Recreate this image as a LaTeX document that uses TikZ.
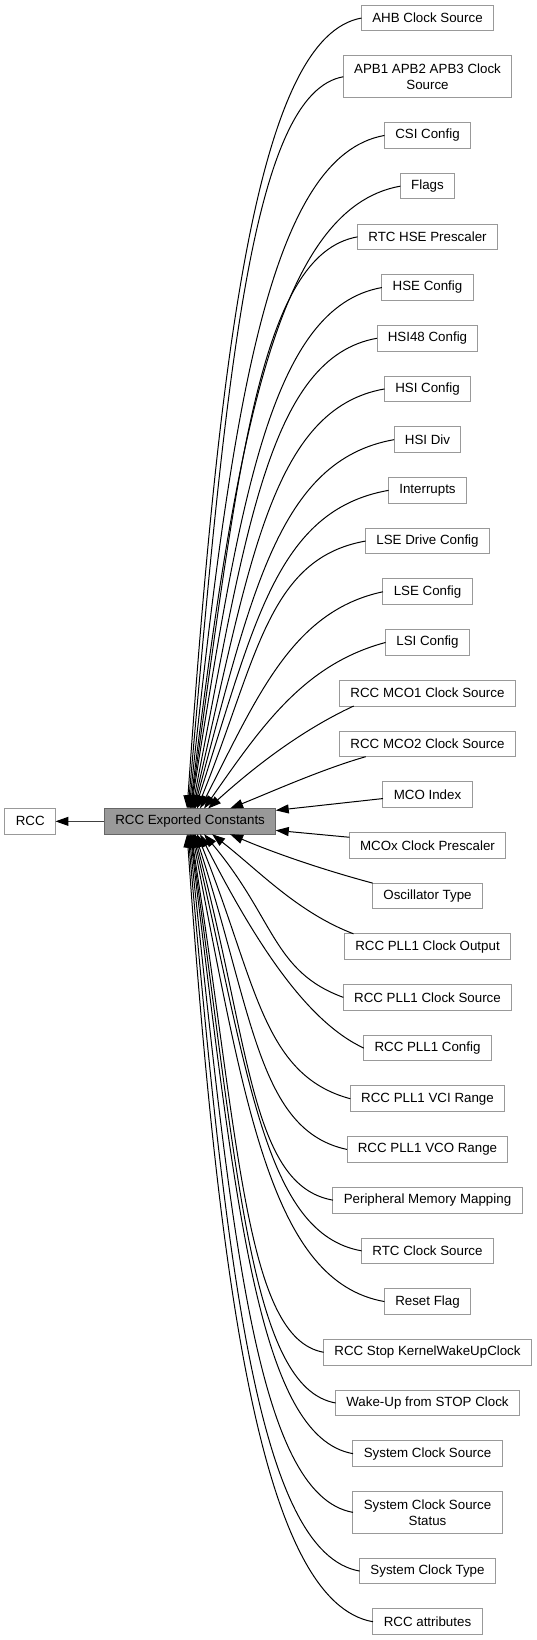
\documentclass[tikz,border=0pt]{standalone}
\usepackage{fontspec}
\setmainfont{Liberation Sans}
\usetikzlibrary{positioning, arrows.meta}
\definecolor{boxstroke}{HTML}{999999}
\definecolor{curfill}{HTML}{999999}
\definecolor{curstroke}{HTML}{666666}
\definecolor{linkgray}{HTML}{404040}

\begin{document}
\begin{tikzpicture}[
  x=1pt, y=-1pt,
  every node/.style={font=\fontsize{13.33}{16}\selectfont},
  >={Triangle[length=13pt, width=9pt]},
  box/.style={
    draw=boxstroke, line width=1pt, fill=white,
    inner xsep=10.8pt, inner ysep=2pt, outer sep=0pt,
    minimum height=25.7pt, align=center
  },
  tallbox/.style={box, minimum height=41.7pt},
  current/.style={box, draw=curstroke, fill=curfill},
  arrow/.style={->, line width=1pt, draw=black}
]
\useasboundingbox (0,0) rectangle (537,1640);

% Group and parent
\node[current] (consts) at (190.1,821.35) {RCC Exported Constants};
\node[box, left=49pt of consts] (rcc) {RCC};

% Subgroups
\node[box] (ahb) at (427.5,18.05) {AHB Clock Source};
\node[tallbox, below=25pt of ahb] (apb) {APB1 APB2 APB3 Clock\\Source};
\node[box, below=25pt of apb] (csi) {CSI Config};
\node[box, below=25pt of csi] (flags) {Flags};
\node[box, below=25pt of flags] (rtchse) {RTC HSE Prescaler};
\node[box, below=25pt of rtchse] (hse) {HSE Config};
\node[box, below=25pt of hse] (hsi48) {HSI48 Config};
\node[box, below=25pt of hsi48] (hsi) {HSI Config};
\node[box, below=25pt of hsi] (hsidiv) {HSI Div};
\node[box, below=25pt of hsidiv] (irq) {Interrupts};
\node[box, below=25pt of irq] (lsedrv) {LSE Drive Config};
\node[box, below=25pt of lsedrv] (lse) {LSE Config};
\node[box, below=25pt of lse] (lsi) {LSI Config};
\node[box, below=25pt of lsi] (mco1) {RCC MCO1 Clock Source};
\node[box, below=25pt of mco1] (mco2) {RCC MCO2 Clock Source};
\node[box, below=25pt of mco2] (mcoidx) {MCO Index};
\node[box, below=25pt of mcoidx] (mcopre) {MCOx Clock Prescaler};
\node[box, below=25pt of mcopre] (osc) {Oscillator Type};
\node[box, below=25pt of osc] (pllout) {RCC PLL1 Clock Output};
\node[box, below=25pt of pllout] (pllsrc) {RCC PLL1 Clock Source};
\node[box, below=25pt of pllsrc] (pllcfg) {RCC PLL1 Config};
\node[box, below=25pt of pllcfg] (pllvci) {RCC PLL1 VCI Range};
\node[box, below=25pt of pllvci] (pllvco) {RCC PLL1 VCO Range};
\node[box, below=25pt of pllvco] (periph) {Peripheral Memory Mapping};
\node[box, below=25pt of periph] (rtcsrc) {RTC Clock Source};
\node[box, below=25pt of rtcsrc] (rstflag) {Reset Flag};
\node[box, below=25pt of rstflag] (stopclk) {RCC Stop KernelWakeUpClock};
\node[box, below=25pt of stopclk] (wakeup) {Wake-Up from STOP Clock};
\node[box, below=25pt of wakeup] (sysclk) {System Clock Source};
\node[tallbox, below=25pt of sysclk] (sysstat) {System Clock Source\\Status};
\node[box, below=25pt of sysstat] (systype) {System Clock Type};
\node[box, below=25pt of systype] (attr) {RCC attributes};

% Arrows
\draw[-{Triangle[length=13pt, width=9pt, color=black]}, line width=1pt, draw=linkgray] (consts) -- (rcc);
\draw[arrow] (ahb.west) to[out=190, in=86, out distance=104pt, in distance=474pt] ([xshift=-3pt]consts.north);
\draw[arrow] (apb.west) to[out=190, in=85, out distance=93pt, in distance=439pt] ([xshift=-2pt]consts.north);
\draw[arrow] (csi.west) to[out=190, in=84, out distance=117pt, in distance=404pt] ([xshift=-1pt]consts.north);
\draw[arrow] (flags.west) to[out=190, in=83, out distance=126pt, in distance=373pt] (consts.north);
\draw[arrow] (rtchse.west) to[out=190, in=82, out distance=100pt, in distance=343pt] ([xshift=0.5pt]consts.north);
\draw[arrow] (hse.west) to[out=190, in=81, out distance=113pt, in distance=313pt] ([xshift=1pt]consts.north);
\draw[arrow] (hsi48.west) to[out=190, in=79, out distance=110pt, in distance=282pt] ([xshift=2pt]consts.north);
\draw[arrow] (hsi.west) to[out=190, in=77, out distance=115pt, in distance=251pt] ([xshift=3pt]consts.north);
\draw[arrow] (hsidiv.west) to[out=190, in=75, out distance=118pt, in distance=221pt] ([xshift=4pt]consts.north);
\draw[arrow] (irq.west) to[out=190, in=72, out distance=115pt, in distance=191pt] ([xshift=5pt]consts.north);
\draw[arrow] (lsedrv.west) to[out=190, in=68, out distance=100pt, in distance=160pt] ([xshift=7pt]consts.north);
\draw[arrow] (lse.west) to[out=192, in=63, out distance=92pt, in distance=128pt] ([xshift=10pt]consts.north);
\draw[arrow] (lsi.west) to[out=195, in=55, out distance=85pt, in distance=100pt] ([xshift=14pt]consts.north);
\draw[arrow] ([xshift=14pt]mco1.south west) to[out=205, in=42, out distance=60pt, in distance=60pt] ([xshift=18pt]consts.north);
\draw[arrow] ([xshift=26pt]mco2.south west) to[out=196, in=22, out distance=45pt, in distance=45pt] ([xshift=40pt]consts.north);
\draw[arrow] ([yshift=-4pt]mcoidx.west) -- ([yshift=11pt]consts.east);
\draw[arrow] ([yshift=8pt]mcopre.west) -- ([yshift=-9pt]consts.east);
\draw[arrow] (osc.north west) to[out=165, in=-23, out distance=50pt, in distance=50pt] ([xshift=40pt]consts.south);
\draw[arrow] ([xshift=9pt]pllout.north west) to[out=159, in=-38, out distance=60pt, in distance=60pt] ([xshift=22pt]consts.south);
\draw[arrow] (pllsrc.west) to[out=160, in=-50, out distance=75pt, in distance=110pt] ([xshift=14pt]consts.south);
\draw[arrow] (pllcfg.west) to[out=155, in=-63, out distance=60pt, in distance=130pt] ([xshift=10pt]consts.south);
\draw[arrow] (pllvci.west) to[out=165, in=-68, out distance=92pt, in distance=158pt] ([xshift=7pt]consts.south);
\draw[arrow] (pllvco.west) to[out=168, in=-72, out distance=91pt, in distance=188pt] ([xshift=5pt]consts.south);
\draw[arrow] (periph.west) to[out=170, in=-75, out distance=84pt, in distance=219pt] ([xshift=4pt]consts.south);
\draw[arrow] (rtcsrc.west) to[out=170, in=-77, out distance=98pt, in distance=249pt] ([xshift=3pt]consts.south);
\draw[arrow] (rstflag.west) to[out=170, in=-79, out distance=114pt, in distance=280pt] ([xshift=2pt]consts.south);
\draw[arrow] (stopclk.west) to[out=170, in=-81, out distance=80pt, in distance=310pt] ([xshift=1pt]consts.south);
\draw[arrow] (wakeup.west) to[out=170, in=-82, out distance=87pt, in distance=340pt] ([xshift=0.5pt]consts.south);
\draw[arrow] (sysclk.west) to[out=170, in=-83, out distance=97pt, in distance=371pt] (consts.south);
\draw[arrow] (sysstat.west) to[out=170, in=-84, out distance=98pt, in distance=406pt] ([xshift=-1pt]consts.south);
\draw[arrow] (systype.west) to[out=170, in=-85, out distance=103pt, in distance=441pt] ([xshift=-2pt]consts.south);
\draw[arrow] (attr.west) to[out=170, in=-86, out distance=111pt, in distance=472pt] ([xshift=-3pt]consts.south);

\end{tikzpicture}
\end{document}
